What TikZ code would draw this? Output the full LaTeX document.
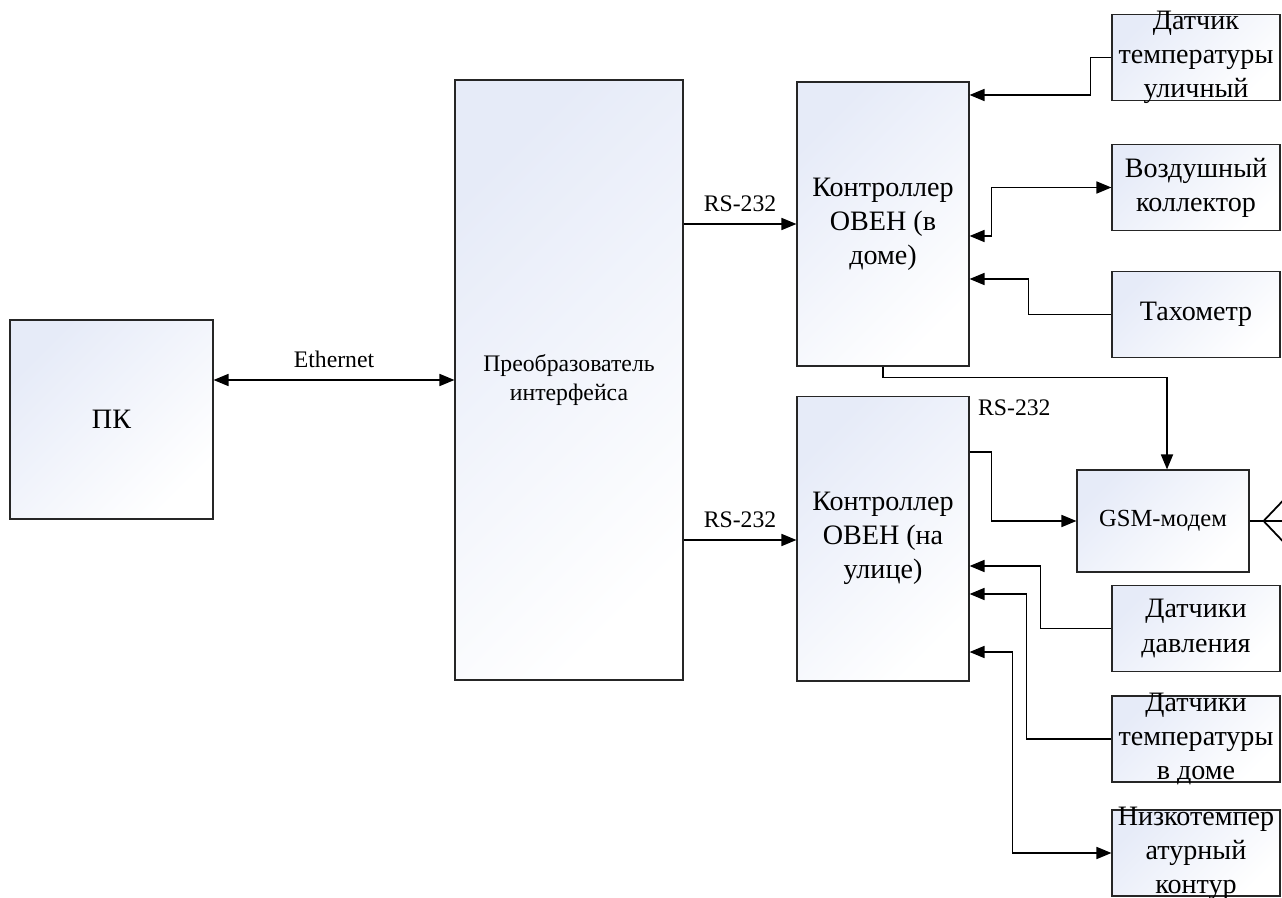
\documentclass[tikz,border=0pt]{standalone}
\usepackage{fontspec}
\setmainfont{Liberation Serif}
\usetikzlibrary{positioning,arrows.meta}
\definecolor{boxblue}{RGB}{230,235,248}

\begin{document}
\begin{tikzpicture}[
    x=0.02cm, y=-0.02cm,
    blk/.style   = {draw=black!85, line width=0.65pt, top color=boxblue, bottom color=white,
                    shading angle=45, align=center, inner sep=2pt,
                    font=\fontsize{16}{19.4}\selectfont},
    sens/.style  = {blk, minimum width=3.36cm, minimum height=1.72cm},
    stext/.style = {align=center, inner sep=0pt, font=\fontsize{16}{19.4}\selectfont},
    ar/.style    = {-{Triangle[length=3mm,width=2.4mm]}, line width=1pt},
    biar/.style  = {{Triangle[length=3mm,width=2.4mm]}-{Triangle[length=3mm,width=2.4mm]},
                    line width=1pt},
    ln/.style    = {line width=1pt},
    lbl/.style   = {font=\fontsize{13.5}{16}\selectfont, inner sep=1pt},
]
\useasboundingbox (0,0) rectangle (1282,898);

% ---------------- left part ----------------
\node[blk, minimum width=4.06cm, minimum height=3.98cm] (pc) at (111.5,419.5) {ПК};
\node[blk, minimum width=4.56cm, minimum height=12cm, font=\fontsize{13.5}{16.4}\selectfont]
    (conv) at (569,380) {Преобразователь\\интерфейса};

\draw[biar] (pc.east |- conv.west) -- node[lbl, above=2mm] {Ethernet} (conv.west);

% ---------------- controllers ----------------
\node[blk, minimum width=3.44cm, minimum height=5.68cm] (ctrlh) at (883,224)
    {Контроллер\\ОВЕН (в\\доме)};
\node[blk, minimum width=3.44cm, minimum height=5.7cm, below=0.58cm of ctrlh] (ctrls)
    {Контроллер\\ОВЕН (на\\улице)};

\draw[ar] (conv.east |- ctrlh.west) -- node[lbl, above=2mm] {RS-232} (ctrlh.west);
\draw[ar] (conv.east |- 0,540) -- node[lbl, above=2mm] {RS-232} (ctrls.west |- 0,540);

% ---------------- sensors of the house controller ----------------
\node[sens, label={[stext]center:Датчик\\температуры\\уличный}] (tsu) at (1196,57.5) {};
\node[sens, label={[stext]center:Воздушный\\коллектор}] (vk) at (1196,187.5) {};
\node[sens, label={[stext]center:Тахометр}] (tach) at (1196,314.5) {};

\draw[ar] (tsu.west) -- ++(-21,0) |- (ctrlh.east |- 0,95);
\draw[biar] (ctrlh.east |- 0,236) -- ++(22,0) |- (vk.west);
\draw[ar] (tach.west) -- ++(-83,0) |- (ctrlh.east |- 0,279);

% ---------------- GSM modem ----------------
\node[blk, minimum width=3.44cm, minimum height=2.04cm, font=\fontsize{14}{17}\selectfont]
    (gsm) at (1163,521) {GSM-модем};

\draw[ar] (ctrlh.south) -- ++(0,11) -| ([xshift=0.08cm]gsm.north);
\draw[ar] (ctrls.east |- 0,452) -- ++(22,0) |- (gsm.west);
\node[lbl, anchor=west] (rsg) at (976,408) {RS-232};

% antenna
\coordinate (ant) at ([xshift=0.28cm]gsm.east);
\draw[ln] (gsm.east) -- ++(34,0);
\draw[ln] (ant) ++(20,-21) -- (ant) -- ++(20,21);

% ---------------- sensors of the street controller ----------------
\node[sens, label={[stext]center:Датчики\\давления}] (dd) at (1196,628.5) {};
\node[sens, label={[stext]center:Датчики\\температуры\\в доме}] (dtd) at (1196,739) {};
\node[sens, label={[stext]center:Низкотемпер\\атурный\\контур}] (ntk) at (1196,853) {};

\draw[ar] (dd.west) -- ++(-71,0) |- (ctrls.east |- 0,566);
\draw[ar] (dtd.west) -- ++(-85,0) |- (ctrls.east |- 0,594);
\draw[biar] (ctrls.east |- 0,652) -- ++(43,0) |- (ntk.west);

\end{tikzpicture}
\end{document}
